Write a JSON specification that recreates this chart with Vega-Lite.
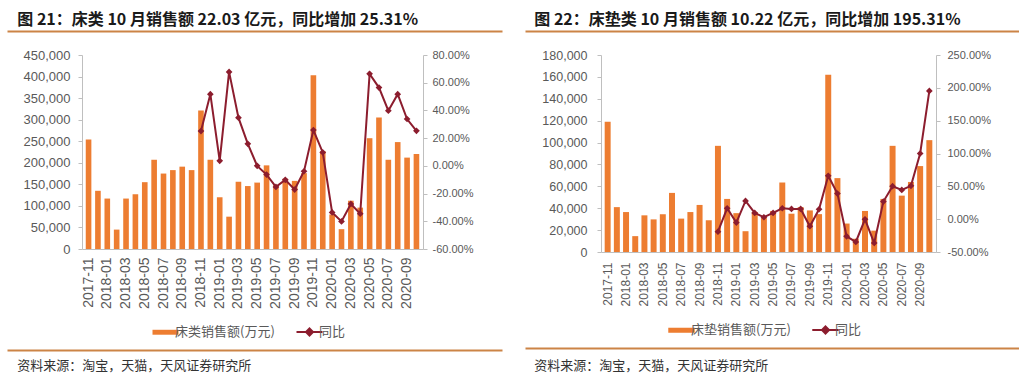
{
  "$schema": "https://vega.github.io/schema/vega-lite/v6.json",
  "background": "white",
  "padding": {"left": 4, "top": 11, "right": 0, "bottom": 0},
  "datasets": {
    "bed": [
      {"m": "2017-11", "sales": 254000, "yoy": null},
      {"m": "2017-12", "sales": 135000, "yoy": null},
      {"m": "2018-01", "sales": 117000, "yoy": null},
      {"m": "2018-02", "sales": 45000, "yoy": null},
      {"m": "2018-03", "sales": 117000, "yoy": null},
      {"m": "2018-04", "sales": 127000, "yoy": null},
      {"m": "2018-05", "sales": 155000, "yoy": null},
      {"m": "2018-06", "sales": 207000, "yoy": null},
      {"m": "2018-07", "sales": 175000, "yoy": null},
      {"m": "2018-08", "sales": 183000, "yoy": null},
      {"m": "2018-09", "sales": 191000, "yoy": null},
      {"m": "2018-10", "sales": 183000, "yoy": null},
      {"m": "2018-11", "sales": 321000, "yoy": 0.251},
      {"m": "2018-12", "sales": 207000, "yoy": 0.517},
      {"m": "2019-01", "sales": 120000, "yoy": 0.036},
      {"m": "2019-02", "sales": 75000, "yoy": 0.678},
      {"m": "2019-03", "sales": 156000, "yoy": 0.348},
      {"m": "2019-04", "sales": 146000, "yoy": 0.159},
      {"m": "2019-05", "sales": 154000, "yoy": 0.0},
      {"m": "2019-06", "sales": 194000, "yoy": -0.063},
      {"m": "2019-07", "sales": 148000, "yoy": -0.152},
      {"m": "2019-08", "sales": 163000, "yoy": -0.101},
      {"m": "2019-09", "sales": 158000, "yoy": -0.171},
      {"m": "2019-10", "sales": 176000, "yoy": -0.039},
      {"m": "2019-11", "sales": 403000, "yoy": 0.258},
      {"m": "2019-12", "sales": 227000, "yoy": 0.097},
      {"m": "2020-01", "sales": 80000, "yoy": -0.336},
      {"m": "2020-02", "sales": 46000, "yoy": -0.401},
      {"m": "2020-03", "sales": 112000, "yoy": -0.275},
      {"m": "2020-04", "sales": 96000, "yoy": -0.345},
      {"m": "2020-05", "sales": 257000, "yoy": 0.664},
      {"m": "2020-06", "sales": 305000, "yoy": 0.565},
      {"m": "2020-07", "sales": 207000, "yoy": 0.398},
      {"m": "2020-08", "sales": 248000, "yoy": 0.517},
      {"m": "2020-09", "sales": 212000, "yoy": 0.338},
      {"m": "2020-10", "sales": 220300, "yoy": 0.2531}
    ],
    "mattress": [
      {"m": "2017-11", "sales": 119000, "yoy": null},
      {"m": "2017-12", "sales": 41000, "yoy": null},
      {"m": "2018-01", "sales": 36500, "yoy": null},
      {"m": "2018-02", "sales": 14500, "yoy": null},
      {"m": "2018-03", "sales": 33500, "yoy": null},
      {"m": "2018-04", "sales": 29800, "yoy": null},
      {"m": "2018-05", "sales": 34500, "yoy": null},
      {"m": "2018-06", "sales": 54000, "yoy": null},
      {"m": "2018-07", "sales": 30500, "yoy": null},
      {"m": "2018-08", "sales": 36500, "yoy": null},
      {"m": "2018-09", "sales": 43000, "yoy": null},
      {"m": "2018-10", "sales": 29000, "yoy": null},
      {"m": "2018-11", "sales": 97000, "yoy": -0.19},
      {"m": "2018-12", "sales": 48500, "yoy": 0.166},
      {"m": "2019-01", "sales": 35500, "yoy": -0.052},
      {"m": "2019-02", "sales": 19000, "yoy": 0.278},
      {"m": "2019-03", "sales": 36500, "yoy": 0.095},
      {"m": "2019-04", "sales": 31000, "yoy": 0.029},
      {"m": "2019-05", "sales": 37500, "yoy": 0.095},
      {"m": "2019-06", "sales": 63500, "yoy": 0.166},
      {"m": "2019-07", "sales": 35000, "yoy": 0.156},
      {"m": "2019-08", "sales": 41000, "yoy": 0.156},
      {"m": "2019-09", "sales": 38000, "yoy": -0.108},
      {"m": "2019-10", "sales": 34600, "yoy": 0.151},
      {"m": "2019-11", "sales": 162000, "yoy": 0.66},
      {"m": "2019-12", "sales": 67500, "yoy": 0.39},
      {"m": "2020-01", "sales": 26000, "yoy": -0.261},
      {"m": "2020-02", "sales": 12000, "yoy": -0.347},
      {"m": "2020-03", "sales": 37500, "yoy": -0.002},
      {"m": "2020-04", "sales": 19500, "yoy": -0.363},
      {"m": "2020-05", "sales": 48500, "yoy": 0.268},
      {"m": "2020-06", "sales": 97000, "yoy": 0.502},
      {"m": "2020-07", "sales": 51500, "yoy": 0.446},
      {"m": "2020-08", "sales": 64000, "yoy": 0.507},
      {"m": "2020-09", "sales": 78500, "yoy": 1.0},
      {"m": "2020-10", "sales": 102200, "yoy": 1.9531}
    ],
    "blank": [{"v": 0}]
  },
  "spacing": 20,
  "resolve": {"scale": {"color": "independent"}, "legend": {"color": "independent"}},
  "hconcat": [
    {
      "spacing": 7,
      "resolve": {"scale": {"color": "independent"}, "legend": {"color": "independent"}},
      "vconcat": [
        {
          "spacing": 15,
          "resolve": {"scale": {"color": "independent"}, "legend": {"color": "independent"}},
          "vconcat": [
            {
              "width": 495, "height": 1,
              "data": {"name": "blank"},
              "mark": {"type": "point", "opacity": 0},
              "encoding": {"x": {"field": "v", "type": "quantitative", "scale": {"domain": [0, 1]}, "axis": {"orient": "bottom", "labels": false, "ticks": false, "grid": false, "title": null, "domainColor": "#CC8446", "domainWidth": 2}}},
              "title": {"text": "图 21：床类 10 月销售额 22.03 亿元，同比增加 25.31%", "anchor": "start", "dx": 13, "offset": 0, "fontSize": 16, "fontWeight": "bold", "font": "Noto Sans CJK SC", "color": "#1a1a1a"}
            },
            {
              "spacing": 0,
              "resolve": {"scale": {"color": "independent"}, "legend": {"color": "independent"}},
              "hconcat": [
                {"width": 1, "height": 1, "data": {"values": []}, "mark": "point", "encoding": {}},
                {
                  "width": 341, "height": 194,
                  "data": {"name": "bed"},
                  "layer": [
                    {
                      "mark": {"type": "bar"},
                      "encoding": {
                        "x": {"field": "m", "type": "ordinal", "scale": {"paddingInner": 0.4, "paddingOuter": 0.4},
                          "axis": {"title": null, "values": ["2017-11","2018-01","2018-03","2018-05","2018-07","2018-09","2018-11","2019-01","2019-03","2019-05","2019-07","2019-09","2019-11","2020-01","2020-03","2020-05","2020-07","2020-09"], "labelAngle": -90, "labelOverlap": false, "ticks": false, "labelPadding": 8, "labelFontSize": 14, "domainColor": "#BFBFBF", "labelColor": "#595959"}},
                        "y": {"field": "sales", "type": "quantitative", "scale": {"domain": [0, 450000], "nice": false},
                          "axis": {"title": null, "values": [0,50000,100000,150000,200000,250000,300000,350000,400000,450000], "format": ",.0f", "grid": false, "tickSize": 4, "labelPadding": 8, "labelFontSize": 13, "minExtent": 74, "domainColor": "#BFBFBF", "tickColor": "#BFBFBF", "labelColor": "#595959"}},
                        "color": {"datum": "床类销售额(万元)", "type": "nominal",
                          "scale": {"domain": ["床类销售额(万元)", "同比"], "range": ["#ED7D31", "#8C1D2E"]},
                          "legend": {"orient": "bottom", "direction": "horizontal", "title": null, "offset": 16, "labelFont": "Noto Sans CJK SC", "labelFontSize": 13, "labelColor": "#595959", "symbolSize": 676, "labelOffset": 3, "columnPadding": 17,
                            "encode": {"symbols": {"update": {
                              "shape": {"signal": "datum.value === '同比' ? 'M-1,0H1M0,-0.27L0.27,0L0,0.27L-0.27,0Z' : 'M-1,-0.19H1V0.19H-1Z'"},
                              "fill": {"signal": "datum.value === '同比' ? '#8C1D2E' : '#ED7D31'"},
                              "stroke": {"signal": "datum.value === '同比' ? '#8C1D2E' : '#ED7D31'"},
                              "strokeWidth": {"signal": "datum.value === '同比' ? 2 : 0"},
                              "opacity": {"value": 1}, "fillOpacity": {"value": 1}, "strokeOpacity": {"value": 1}}}}}}
                      }
                    },
                    {
                      "mark": {"type": "line", "strokeWidth": 2, "point": {"shape": "diamond", "size": 45, "filled": true, "opacity": 1}},
                      "encoding": {
                        "x": {"field": "m", "type": "ordinal"},
                        "y": {"field": "yoy", "type": "quantitative", "scale": {"domain": [-0.6, 0.8], "nice": false},
                          "axis": {"orient": "right", "title": null, "values": [-0.6,-0.4,-0.2,0,0.2,0.4,0.6,0.8], "format": ".2%", "labelExpr": "replace(datum.label, '−', '-')", "grid": false, "tickSize": 4, "labelPadding": 5, "labelFontSize": 11, "domainColor": "#BFBFBF", "tickColor": "#BFBFBF", "labelColor": "#595959"}},
                        "color": {"datum": "同比", "type": "nominal"}
                      }
                    }
                  ],
                  "resolve": {"scale": {"y": "independent"}}
                }
              ]
            }
          ]
        },
        {
          "width": 495, "height": 1,
          "data": {"name": "blank"},
          "mark": {"type": "point", "opacity": 0},
          "encoding": {"x": {"field": "v", "type": "quantitative", "scale": {"domain": [0, 1]}, "axis": {"orient": "top", "labels": false, "ticks": false, "grid": false, "title": null, "domainColor": "#CC8446", "domainWidth": 2}}},
          "title": {"text": "资料来源：淘宝，天猫，天风证券研究所", "orient": "bottom", "anchor": "start", "dx": 13, "offset": 7, "fontSize": 13, "fontWeight": "normal", "font": "Noto Sans CJK SC", "color": "#333333"}
        }
      ]
    },
    {
      "spacing": 7,
      "resolve": {"scale": {"color": "independent"}, "legend": {"color": "independent"}},
      "vconcat": [
        {
          "spacing": 15,
          "resolve": {"scale": {"color": "independent"}, "legend": {"color": "independent"}},
          "vconcat": [
            {
              "width": 494, "height": 1,
              "data": {"name": "blank"},
              "mark": {"type": "point", "opacity": 0},
              "encoding": {"x": {"field": "v", "type": "quantitative", "scale": {"domain": [0, 1]}, "axis": {"orient": "bottom", "labels": false, "ticks": false, "grid": false, "title": null, "domainColor": "#CC8446", "domainWidth": 2}}},
              "title": {"text": "图 22：床垫类 10 月销售额 10.22 亿元，同比增加 195.31%", "anchor": "start", "dx": 12, "offset": 0, "fontSize": 16, "fontWeight": "bold", "font": "Noto Sans CJK SC", "color": "#1a1a1a"}
            },
            {
              "spacing": 0,
              "resolve": {"scale": {"color": "independent"}, "legend": {"color": "independent"}},
              "hconcat": [
                {"width": 1, "height": 1, "data": {"values": []}, "mark": "point", "encoding": {}},
                {
                  "width": 335, "height": 197,
                  "data": {"name": "mattress"},
                  "layer": [
                    {
                      "mark": {"type": "bar"},
                      "encoding": {
                        "x": {"field": "m", "type": "ordinal", "scale": {"paddingInner": 0.35, "paddingOuter": 0.4},
                          "axis": {"title": null, "values": ["2017-11","2018-01","2018-03","2018-05","2018-07","2018-09","2018-11","2019-01","2019-03","2019-05","2019-07","2019-09","2019-11","2020-01","2020-03","2020-05","2020-07","2020-09"], "labelAngle": -90, "labelOverlap": false, "ticks": false, "labelPadding": 10, "labelFontSize": 12, "domainColor": "#BFBFBF", "labelColor": "#595959"}},
                        "y": {"field": "sales", "type": "quantitative", "scale": {"domain": [0, 180000], "nice": false},
                          "axis": {"title": null, "values": [0,20000,40000,60000,80000,100000,120000,140000,160000,180000], "format": ",.0f", "grid": false, "tickSize": 4, "labelPadding": 10, "labelFontSize": 12.5, "minExtent": 75, "domainColor": "#BFBFBF", "tickColor": "#BFBFBF", "labelColor": "#595959"}},
                        "color": {"datum": "床垫销售额(万元)", "type": "nominal",
                          "scale": {"domain": ["床垫销售额(万元)", "同比"], "range": ["#ED7D31", "#8C1D2E"]},
                          "legend": {"orient": "bottom", "direction": "horizontal", "title": null, "offset": 16, "labelFont": "Noto Sans CJK SC", "labelFontSize": 13, "labelColor": "#595959", "symbolSize": 700, "labelOffset": 3, "columnPadding": 17,
                            "encode": {"symbols": {"update": {
                              "shape": {"signal": "datum.value === '同比' ? 'M-1,0H1M0,-0.27L0.27,0L0,0.27L-0.27,0Z' : 'M-1,-0.19H1V0.19H-1Z'"},
                              "fill": {"signal": "datum.value === '同比' ? '#8C1D2E' : '#ED7D31'"},
                              "stroke": {"signal": "datum.value === '同比' ? '#8C1D2E' : '#ED7D31'"},
                              "strokeWidth": {"signal": "datum.value === '同比' ? 2 : 0"},
                              "opacity": {"value": 1}, "fillOpacity": {"value": 1}, "strokeOpacity": {"value": 1}}}}}}
                      }
                    },
                    {
                      "mark": {"type": "line", "strokeWidth": 2, "point": {"shape": "diamond", "size": 45, "filled": true, "opacity": 1}},
                      "encoding": {
                        "x": {"field": "m", "type": "ordinal"},
                        "y": {"field": "yoy", "type": "quantitative", "scale": {"domain": [-0.5, 2.5], "nice": false},
                          "axis": {"orient": "right", "title": null, "values": [-0.5,0,0.5,1,1.5,2,2.5], "format": ".2%", "labelExpr": "replace(datum.label, '−', '-')", "grid": false, "tickSize": 4, "labelPadding": 7, "labelFontSize": 11, "domainColor": "#BFBFBF", "tickColor": "#BFBFBF", "labelColor": "#595959"}},
                        "color": {"datum": "同比", "type": "nominal"}
                      }
                    }
                  ],
                  "resolve": {"scale": {"y": "independent"}}
                }
              ]
            }
          ]
        },
        {
          "width": 494, "height": 1,
          "data": {"name": "blank"},
          "mark": {"type": "point", "opacity": 0},
          "encoding": {"x": {"field": "v", "type": "quantitative", "scale": {"domain": [0, 1]}, "axis": {"orient": "top", "labels": false, "ticks": false, "grid": false, "title": null, "domainColor": "#CC8446", "domainWidth": 2}}},
          "title": {"text": "资料来源：淘宝，天猫，天风证券研究所", "orient": "bottom", "anchor": "start", "dx": 12, "offset": 9, "fontSize": 13, "fontWeight": "normal", "font": "Noto Sans CJK SC", "color": "#333333"}
        }
      ]
    }
  ],
  "config": {
    "font": "Liberation Sans",
    "view": {"stroke": null},
    "legend": {"layout": {"bottom": {"anchor": "middle"}}}
  }
}
